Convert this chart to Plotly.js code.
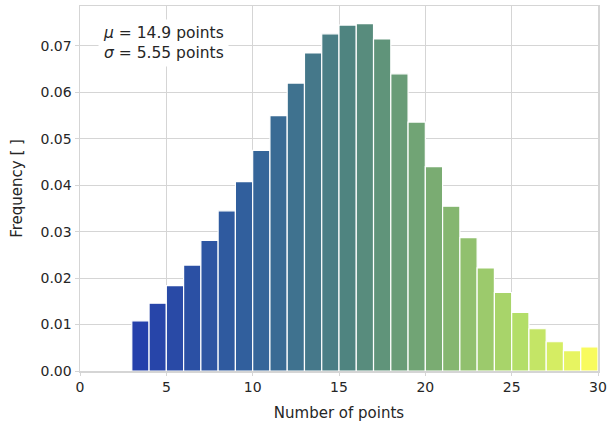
<!DOCTYPE html>
<html><head><meta charset="utf-8">
<script src="https://cdn.plot.ly/plotly-3.0.1.min.js"></script>
<style>html,body{margin:0;padding:0;background:#fff}</style>
</head><body><div id="chart" style="width:610px;height:426px"></div>
<script>
var binStarts = [3,4,5,6,7,8,9,10,11,12,13,14,15,16,17,18,19,20,21,22,23,24,25,26,27,28,29];
var frequency = [0.0108,0.0146,0.0184,0.0228,0.0281,0.0345,0.0408,0.0475,0.0550,0.0620,0.0685,0.0726,0.0745,0.0748,0.0715,0.0640,0.0536,0.0440,0.0355,0.0287,0.0222,0.0169,0.0126,0.0091,0.0063,0.0044,0.0052];
var binWidth = 1;
var statsText = ['<i>μ</i> = 14.9 points', '<i>σ</i> = 5.55 points'];

var centers = binStarts.map(function(s){return s + binWidth/2;});
var trace = {
  type: 'bar', x: centers, y: frequency, width: binWidth,
  marker: {
    color: centers, cmin: centers[0], cmax: centers[centers.length-1],
    colorscale: [[0,'#2540ab'],[0.25,'#32629c'],[0.46,'#4f8480'],[0.65,'#79ab72'],[0.85,'#b4df68'],[1,'#f8fb5e']],
    line: {color: '#ffffff', width: 1.2}
  },
  hoverinfo: 'x+y'
};
var layout = {
  width: 610, height: 426,
  margin: {l: 80, r: 12, t: 6, b: 55},
  paper_bgcolor: '#fff', plot_bgcolor: '#fff',
  font: {family: 'DejaVu Sans, sans-serif', size: 14, color: '#262626'},
  bargap: 0, showlegend: false,
  xaxis: {range: [0, 30], tickvals: [0,5,10,15,20,25,30], showgrid: true, gridcolor: '#d5d5d5', gridwidth: 1,
    zeroline: false, showline: true, mirror: true, linecolor: '#d5d5d5', linewidth: 1.5,
    ticks: 'outside', ticklen: 3, tickcolor: '#d5d5d5',
    tickfont: {size: 14, color: '#262626'},
    title: {text: 'Number of points', font: {size: 15, color: '#262626'}, standoff: 13}},
  yaxis: {range: [0, 0.0786], tickvals: [0,0.01,0.02,0.03,0.04,0.05,0.06,0.07], tickformat: '.2f',
    showgrid: true, gridcolor: '#d5d5d5', gridwidth: 1,
    zeroline: false, showline: true, mirror: true, linecolor: '#d5d5d5', linewidth: 1.5,
    ticks: 'outside', ticklen: 4, tickcolor: '#d5d5d5',
    tickfont: {size: 14, color: '#262626'},
    title: {text: 'Frequency [ ]', font: {size: 15, color: '#262626'}, standoff: 14}},
  annotations: [{
    xref: 'paper', yref: 'paper', x: 0.035, y: 0.965, xanchor: 'left', yanchor: 'top',
    text: statsText.join('<br>'), showarrow: false, align: 'left',
    font: {size: 15.5, color: '#262626'}, bgcolor: '#ffffff', borderpad: 4
  }]
};
Plotly.newPlot('chart', [trace], layout, {displayModeBar: false, staticPlot: true});
</script></body></html>
